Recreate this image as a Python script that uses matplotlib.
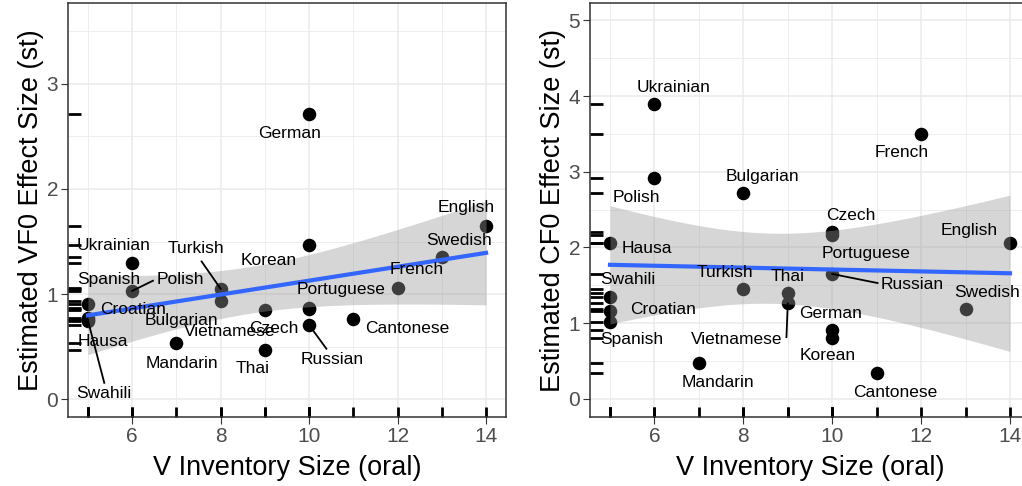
import numpy as np
import matplotlib
matplotlib.use("Agg")
import matplotlib.pyplot as plt
from matplotlib.transforms import blended_transform_factory

plt.rcParams['font.family'] = ['Liberation Sans', 'DejaVu Sans']

# ---------------- data ----------------
languages = ["German", "English", "Korean", "Swedish", "Ukrainian", "Turkish",
             "Polish", "French", "Bulgarian", "Spanish", "Vietnamese", "Portuguese",
             "Czech", "Croatian", "Cantonese", "Hausa", "Swahili", "Russian",
             "Mandarin", "Thai"]
v_inventory = [10, 14, 10, 13, 6, 8, 6, 12, 8, 5, 9, 10, 10, 5, 11, 5, 5, 10, 7, 9]
vf0_effect = [2.71, 1.65, 1.47, 1.355, 1.30, 1.05, 1.03, 1.06, 0.93, 0.905, 0.85, 0.86,
              0.87, 0.77, 0.76, 0.74, 0.75, 0.705, 0.536, 0.47]
cf0_effect = [0.91, 2.065, 0.805, 1.19, 3.89, 1.45, 2.915, 3.50, 2.72, 1.02, 1.26, 2.16,
              2.20, 1.16, 0.339, 2.057, 1.35, 1.65, 0.467, 1.40]

# label placement (layout only): name -> (label x, label y, segment end or None)
vf0_labels = {
    "German": (9.56, 2.53, None), "English": (13.56, 1.82, None),
    "Swedish": (13.40, 1.51, None), "Korean": (9.09, 1.32, None),
    "French": (12.42, 1.23, None), "Portuguese": (10.73, 1.04, None),
    "Cantonese": (12.21, 0.67, None), "Russian": (10.52, 0.38, (10.39, 0.48)),
    "Czech": (9.21, 0.67, None), "Thai": (8.72, 0.29, None),
    "Vietnamese": (8.21, 0.64, None), "Mandarin": (7.12, 0.34, None),
    "Bulgarian": (7.12, 0.745, None), "Turkish": (7.45, 1.43, (7.57, 1.31)),
    "Polish": (7.08, 1.14, (6.47, 1.127)), "Spanish": (5.46, 1.14, None),
    "Ukrainian": (5.57, 1.46, None), "Croatian": (6.01, 0.85, None),
    "Hausa": (5.33, 0.545, None), "Swahili": (5.36, 0.054, (5.37, 0.155)),
}
cf0_labels = {
    "Ukrainian": (6.43, 4.12, None), "French": (11.56, 3.25, None),
    "Bulgarian": (8.43, 2.94, None), "Polish": (5.59, 2.66, None),
    "Czech": (10.41, 2.42, None), "English": (13.08, 2.22, None),
    "Hausa": (5.84, 1.98, None), "Portuguese": (10.77, 1.92, None),
    "Swahili": (5.39, 1.58, None), "Turkish": (7.58, 1.67, None),
    "Thai": (8.99, 1.61, None), "Russian": (11.80, 1.515, (11.02, 1.53)),
    "Swedish": (13.49, 1.41, None), "Croatian": (6.20, 1.185, None),
    "German": (9.96, 1.13, None), "Spanish": (5.48, 0.78, None),
    "Vietnamese": (7.84, 0.78, (8.97, 0.815)), "Korean": (9.89, 0.57, None),
    "Mandarin": (7.43, 0.22, None), "Cantonese": (11.41, 0.09, None),
}

T_CRIT = 2.100922  # t quantile (0.975, df = 18)


def draw_panel(ax, x, y, labels, ylabel, ylim, ymajor, yminor):
    x = np.asarray(x, float)
    y = np.asarray(y, float)
    ax.set_xlim(4.55, 14.45)
    ax.set_ylim(*ylim)
    ax.set_xticks([6, 8, 10, 12, 14])
    ax.set_xticks([5, 7, 9, 11, 13], minor=True)
    ax.set_yticks(ymajor)
    ax.set_yticks(yminor, minor=True)
    ax.set_axisbelow(True)
    ax.grid(which='major', color='#EBEBEB', lw=1.1)
    ax.grid(which='minor', color='#EBEBEB', lw=0.6)
    ax.tick_params(which='major', direction='out', length=5, width=0.8,
                   color='#333333', labelcolor='#4D4D4D', labelsize=15, pad=2)
    ax.tick_params(which='minor', length=0)
    for s in ax.spines.values():
        s.set_color('#333333')
        s.set_linewidth(1.1)

    # points
    ax.scatter(x, y, s=95, color='black', zorder=2, linewidths=0)

    # rugs
    tx = blended_transform_factory(ax.transData, ax.transAxes)
    ty = blended_transform_factory(ax.transAxes, ax.transData)
    for xv in x:
        ax.plot([xv, xv], [0, 0.025], transform=tx, color='black', lw=2,
                zorder=2, clip_on=False, solid_capstyle='butt')
    for yv in y:
        ax.plot([0, 0.03], [yv, yv], transform=ty, color='black', lw=2,
                zorder=2, clip_on=False, solid_capstyle='butt')

    # linear fit with 95% CI
    n = len(x)
    b, a = np.polyfit(x, y, 1)
    resid = y - (a + b * x)
    s = np.sqrt(np.sum(resid ** 2) / (n - 2))
    xs = np.linspace(x.min(), x.max(), 80)
    fit = a + b * xs
    se = s * np.sqrt(1 / n + (xs - x.mean()) ** 2 / np.sum((x - x.mean()) ** 2))
    ax.fill_between(xs, fit - T_CRIT * se, fit + T_CRIT * se, color='#999999',
                    alpha=0.4, linewidth=0, zorder=3)
    ax.plot(xs, fit, color='#3366FF', lw=3, zorder=4)

    # labels
    pts = dict(zip(languages, zip(x, y)))
    for name, (lx, ly, seg) in labels.items():
        px, py = pts[name]
        if seg is not None:
            ax.plot([px, seg[0]], [py, seg[1]], color='black', lw=1.3, zorder=5)
        ax.text(lx, ly, name, ha='center', va='center', fontsize=12.5,
                color='black', zorder=6)

    ax.set_xlabel("V Inventory Size (oral)", fontsize=19.5, labelpad=7)
    ax.set_ylabel(ylabel, fontsize=19.5, labelpad=2)


fig = plt.figure(figsize=(10.22, 4.86), dpi=100)
ax1 = fig.add_axes([68 / 1022, 69 / 486, 438 / 1022, 414 / 486])
ax2 = fig.add_axes([590 / 1022, 69 / 486, 440 / 1022, 414 / 486])

draw_panel(ax1, v_inventory, vf0_effect, vf0_labels,
           "Estimated VF0 Effect Size (st)", (-0.17, 3.77),
           [0, 1, 2, 3], [0.5, 1.5, 2.5, 3.5])
draw_panel(ax2, v_inventory, cf0_effect, cf0_labels,
           "Estimated CF0 Effect Size (st)", (-0.24, 5.23),
           [0, 1, 2, 3, 4, 5], [0.5, 1.5, 2.5, 3.5, 4.5])

fig.savefig("out.png", dpi=100)
